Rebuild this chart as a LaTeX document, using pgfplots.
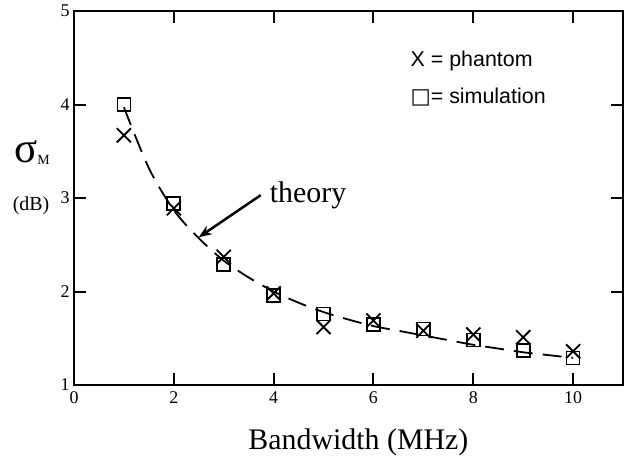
\documentclass[border=0pt]{standalone}
\usepackage{pgfplots}
\pgfplotsset{compat=1.18}
\usepackage{fontspec}
\setmainfont{Liberation Serif}
\newfontfamily\sansf{Liberation Sans}
\newfontfamily\dejavu{DejaVu Sans}
\usetikzlibrary{arrows.meta}
\begin{document}
\begin{tikzpicture}
\begin{axis}[
  scale only axis, width=549bp, height=374bp,
  xmin=0, xmax=11, ymin=1, ymax=5,
  xtick={0,2,4,6,8,10}, ytick={1,2,3,4,5},
  tick align=inside, major tick length=12bp,
  axis line style={line width=2.2bp},
  every tick/.style={line width=2bp, black},
  ticklabel style={font=\fontsize{18}{20}\selectfont},
  /pgf/number format/assume math mode=true,
  xticklabel style={yshift=-3bp},
  yticklabel style={xshift=-1bp},
  clip=false,
]
% theory curve
\addplot[black, line width=1.8bp, dash pattern=on 19bp off 10bp, smooth] coordinates {
(1,3.97) (1.5,3.32) (2,2.87) (2.5,2.57) (3,2.33) (3.5,2.15) (4,2.0) (4.5,1.88)
(5,1.78) (5.5,1.70) (6,1.63) (6.5,1.58) (7,1.53) (7.5,1.48) (8,1.43) (8.5,1.39)
(9,1.35) (9.5,1.32) (10,1.29)};
% simulation (squares)
\addplot[only marks, mark=square, mark size=6.5bp, black, line width=1.7bp] coordinates {
(1,4.00) (2,2.94) (3,2.29) (4,1.96) (5,1.76) (6,1.65) (7,1.60) (8,1.48) (9,1.37) (10,1.29)};
% phantom (crosses)
\addplot[only marks, mark=x, mark size=10bp, black, line width=1.8bp] coordinates {
(1,3.67) (2,2.89) (3,2.37) (4,1.98) (5,1.62) (6,1.69) (7,1.58) (8,1.54) (9,1.51) (10,1.36)};
% labels
\node[anchor=base west, inner sep=0] at (axis cs:-1.2,3.382)
  {{\fontsize{43}{43}\selectfont σ}\raisebox{-2bp}{\fontsize{14}{14}\selectfont M}};
\node[anchor=base west, inner sep=0] at (axis cs:-1.23,2.87) {\fontsize{20}{22}\selectfont (dB)};
\node[anchor=base west, inner sep=0] at (axis cs:3.92,2.955) {\fontsize{30}{32}\selectfont theory};
\draw[line width=2.5bp, -{Stealth[length=13bp,width=10bp]}] (axis cs:3.74,3.03) -- (axis cs:2.5,2.58);
\node[anchor=base, inner sep=0] at (axis cs:5.7,0.306) {\fontsize{30}{32}\selectfont Bandwidth (MHz)};
\node[anchor=base west, inner sep=0] at (axis cs:6.74,4.408) {\sansf\fontsize{21.5}{23}\selectfont X = phantom};
\node[anchor=base west, inner sep=0] at (axis cs:6.74,4.013) {\fontsize{21.5}{23}\selectfont{\dejavu □}{\sansf= simulation}};
\end{axis}
\pgfresetboundingbox
\path[use as bounding box] (current axis.south west) ++(-74bp,-76bp) rectangle ++(630bp,461bp);
\end{tikzpicture}
\end{document}
